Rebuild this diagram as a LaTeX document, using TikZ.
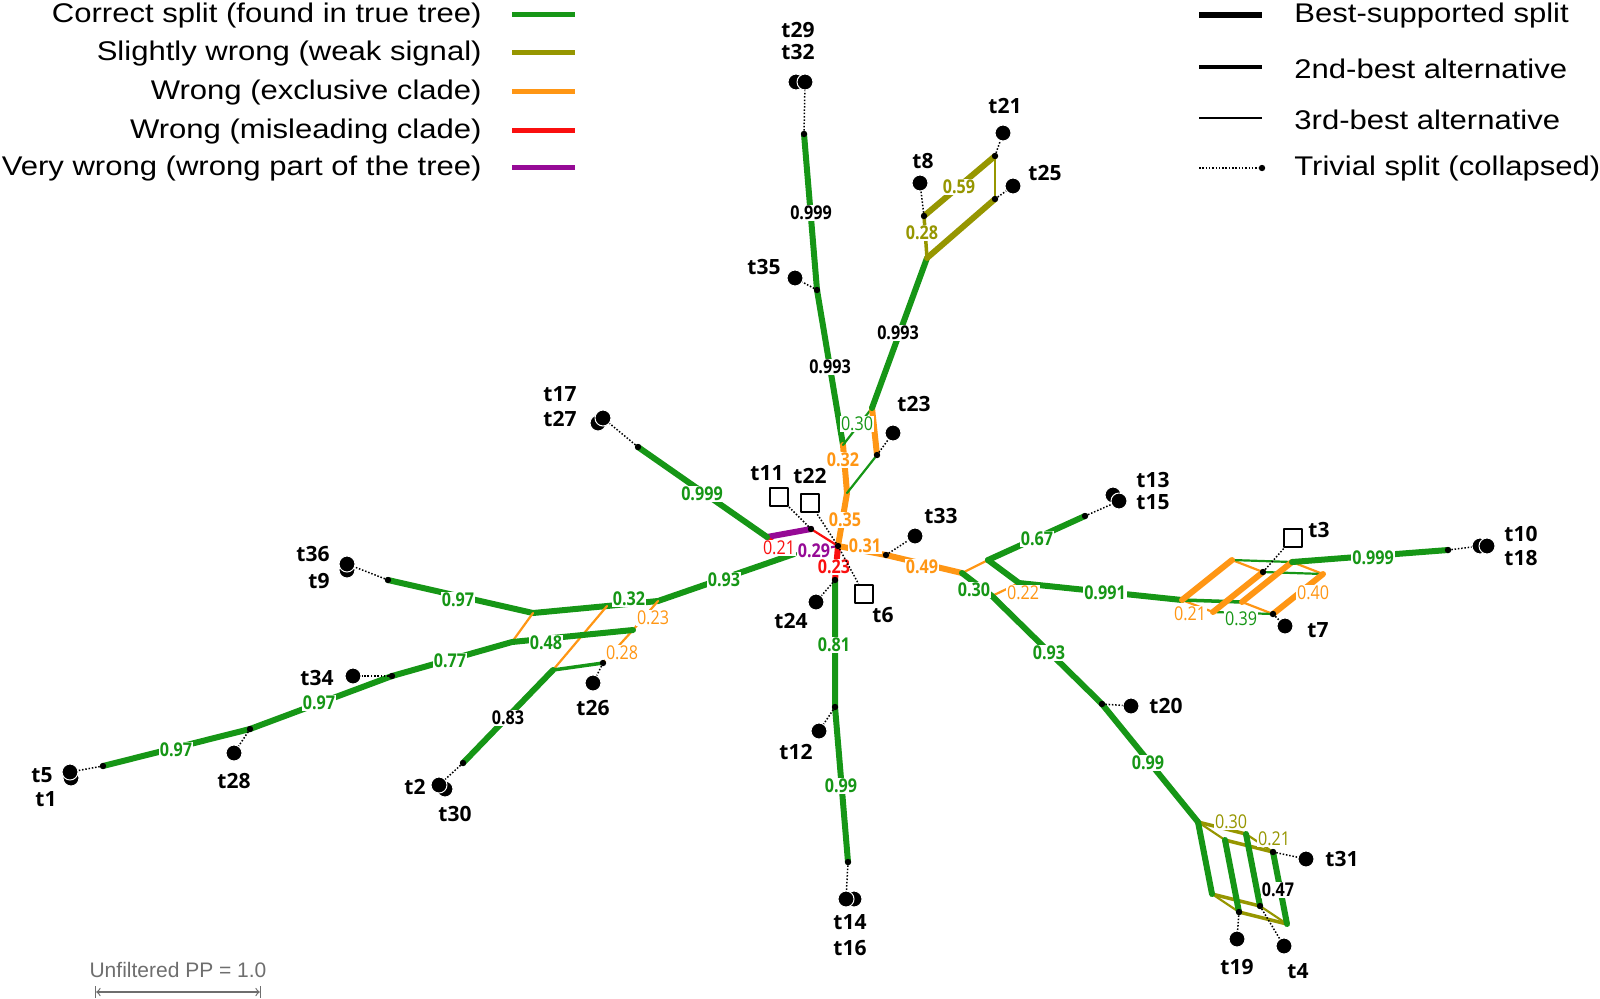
\documentclass[tikz,border=0pt]{standalone}
\usepackage{fontspec}
\setmainfont{Liberation Sans}
\newfontfamily\lgfont{Liberation Sans}[FakeStretch=1.15]
\newfontfamily\taxfont{Open Sans}
\newfontfamily\labfont{Open Sans}[FakeStretch=0.85]
\definecolor{cgreen}{RGB}{22,150,22}
\definecolor{colive}{RGB}{150,150,0}
\definecolor{corange}{RGB}{255,150,20}
\definecolor{cred}{RGB}{250,15,15}
\definecolor{cpurple}{RGB}{150,10,150}
\definecolor{cgray}{RGB}{110,110,110}
\begin{document}
\begin{tikzpicture}[x=0.5pt,y=-0.5pt,
  line cap=round, line join=round,
  bA/.style={line width=3pt},
  bB/.style={line width=1.75pt},
  bC/.style={line width=1.1pt},
  triv/.style={line width=0.75pt, dash pattern=on 0.75pt off 0.9pt, line cap=butt},
  tx/.style={circle, fill=black, draw=white, line width=0.5pt, minimum size=8pt, inner sep=0pt},
  sq/.style={rectangle, draw=black, fill=white, line width=1.1pt, minimum size=9pt, inner sep=0pt},
  jd/.style={circle, fill=black, minimum size=3.2pt, inner sep=0pt},
  tn/.style={font=\taxfont\bfseries\fontsize{10.5pt}{12pt}\selectfont, inner sep=0pt},
  bl/.style={font=\labfont\bfseries\fontsize{9.5pt}{10pt}\selectfont, fill=white, inner sep=0.4pt},
  bll/.style={font=\labfont\fontsize{9.5pt}{10pt}\selectfont, fill=white, inner sep=0.4pt},
  lg/.style={font=\lgfont\fontsize{13.5pt}{15pt}\selectfont, inner sep=0pt},
]
\useasboundingbox (0,0) rectangle (1600,998);

% ---------- legend ----------
\node[lg, anchor=east] (lg1) at (482,16) {Correct split (found in true tree)};
\node[lg, anchor=east] (lg2) at (482,54) {Slightly wrong (weak signal)};
\node[lg, anchor=east] (lg3) at (482,93) {Wrong (exclusive clade)};
\node[lg, anchor=east] (lg4) at (482,132) {Wrong (misleading clade)};
\node[lg, anchor=east] (lg5) at (482,169) {Very wrong (wrong part of the tree)};
\coordinate (la1) at (512,14); \coordinate (lb1) at (575,14);
\coordinate (la2) at (512,52); \coordinate (lb2) at (575,52);
\coordinate (la3) at (512,91); \coordinate (lb3) at (575,91);
\coordinate (la4) at (512,130); \coordinate (lb4) at (575,130);
\coordinate (la5) at (512,167); \coordinate (lb5) at (575,167);
\draw[cgreen, line width=2.5pt, line cap=butt] (la1) -- (lb1);
\draw[colive, line width=2.5pt, line cap=butt] (la2) -- (lb2);
\draw[corange, line width=2.5pt, line cap=butt] (la3) -- (lb3);
\draw[cred, line width=2.5pt, line cap=butt] (la4) -- (lb4);
\draw[cpurple, line width=2.5pt, line cap=butt] (la5) -- (lb5);

\coordinate (ra1) at (1199,15); \coordinate (rb1) at (1262,15);
\coordinate (ra2) at (1199,67); \coordinate (rb2) at (1262,67);
\coordinate (ra3) at (1199,118); \coordinate (rb3) at (1262,118);
\coordinate (ra4) at (1199,168);
\draw[line width=3pt, line cap=butt] (ra1) -- (rb1);
\draw[line width=1.6pt, line cap=butt] (ra2) -- (rb2);
\draw[line width=0.75pt, line cap=butt] (ra3) -- (rb3);
\node[jd] (rb4) at (1262,168) {};
\draw[triv, line width=0.6pt] (ra4) -- (rb4);
\node[lg, anchor=west] (rl1) at (1294,16) {Best-supported split};
\node[lg, anchor=west] (rl2) at (1294,69) {2nd-best alternative};
\node[lg, anchor=west] (rl3) at (1294,120) {3rd-best alternative};
\node[lg, anchor=west] (rl4) at (1294,169) {Trivial split (collapsed)};

% scale bar
\node[font=\fontsize{10.5pt}{12pt}\selectfont, text=cgray, inner sep=0pt] (sc) at (178,970) {Unfiltered PP = 1.0};
\coordinate (sa) at (95,992); \coordinate (sb) at (261,992);
\draw[cgray, line width=0.6pt, |<->|] (sa) -- (sb);

% ---------- coordinates ----------
\coordinate (C) at (838,546);
% top
\coordinate (n29) at (804,134);
\coordinate (n35) at (817,290);
\coordinate (G1) at (843,445);
\coordinate (G2) at (872,408);
\coordinate (n23) at (877,455);
\coordinate (G3) at (847,493);
\coordinate (O1) at (927,258);
\coordinate (n8) at (924,216);
\coordinate (n21) at (995,156);
\coordinate (n25) at (995,199);
% centre
\coordinate (A) at (767,537);
\coordinate (B) at (811,529);
\coordinate (D) at (794,554);
\coordinate (n24) at (835,580);
\coordinate (n12) at (835,707);
\coordinate (n14) at (848,862);
% right
\coordinate (n33) at (886,555);
\coordinate (P) at (962,573);
\coordinate (Q) at (988,560);
\coordinate (S) at (992,596);
\coordinate (R) at (1019,583);
\coordinate (n13) at (1085,516);
\coordinate (O2) at (1182,600);
\coordinate (O2u) at (1232,560);
\coordinate (O2w) at (1213,612);
\coordinate (O2uw) at (1263,572);
\coordinate (O2v) at (1242,602);
\coordinate (O2uv) at (1292,562);
\coordinate (O2vw) at (1273,614);
\coordinate (O2uvw) at (1323,574);
\coordinate (n10) at (1448,550);
% lower right
\coordinate (n20) at (1102,704);
\coordinate (T0) at (1198,822);
\coordinate (T1) at (1225,840);
\coordinate (T2) at (1246,834);
\coordinate (T3) at (1273,852);
\coordinate (B0) at (1212,894);
\coordinate (B1) at (1239,912);
\coordinate (B2) at (1260,906);
\coordinate (B3) at (1287,924);
% left
\coordinate (n17) at (638,447);
\coordinate (X) at (658,601);
\coordinate (M) at (607,606);
\coordinate (Y) at (533,613);
\coordinate (Z) at (633,630);
\coordinate (U) at (603,663);
\coordinate (W) at (512,642);
\coordinate (V) at (553,670);
\coordinate (n2) at (463,763);
\coordinate (n36) at (388,580);
\coordinate (n34) at (392,676);
\coordinate (n28) at (250,729);
\coordinate (n5) at (103,766);

% ---------- edges ----------
% top
\draw[cgreen,bA] (n29) -- (n35) -- (G1);
\draw[corange,bA] (G1) -- (G3) -- (C);
\draw[cgreen,bC] (G1) -- (G2);
\draw[cgreen,bC] (G3) -- (n23);
\draw[corange,bA] (G2) -- (n23);
\draw[cgreen,bA] (G2) -- (O1);
\draw[colive,bB] (O1) -- (n8);
\draw[colive,bA] (n8) -- (n21);
\draw[colive,bA] (O1) -- (n25);
\draw[colive,bC] (n21) -- (n25);
% centre
\draw[cpurple,bA] (A) -- (B);
\draw[cpurple,bC] (D) -- (C);
\draw[cred,bC] (A) -- (D);
\draw[cred,bC] (B) -- (C);
\draw[cred,bA] (C) -- (n24);
\draw[cgreen,bA] (n24) -- (n12) -- (n14);
% right
\draw[corange,bA] (C) -- (n33) -- (P);
\draw[corange,bC] (P) -- (Q);
\draw[corange,bC] (S) -- (R);
\draw[cgreen,bA] (P) -- (S) -- (n20) -- (T0);
\draw[cgreen,bA] (Q) -- (R) -- (O2);
\draw[cgreen,bA] (Q) -- (n13);
% cube 1
\draw[corange,bC] (O2) -- (O2w);
\draw[corange,bC] (O2u) -- (O2uw);
\draw[corange,bC] (O2v) -- (O2vw);
\draw[corange,bC] (O2uv) -- (O2uvw);
\draw[cgreen,bB] (O2) -- (O2v);
\draw[cgreen,bC] (O2w) -- (O2vw);
\draw[cgreen,bC] (O2u) -- (O2uv);
\draw[cgreen,bC] (O2uw) -- (O2uvw);
\draw[corange,bA] (O2) -- (O2u);
\draw[corange,bA] (O2w) -- (O2uw);
\draw[corange,bA] (O2v) -- (O2uv);
\draw[corange,bA] (O2vw) -- (O2uvw);
\draw[cgreen,bA] (O2uv) -- (n10);
% cube 2
\draw[colive,bC] (T0) -- (T1);
\draw[colive,bC] (T2) -- (T3);
\draw[colive,bC] (B0) -- (B1);
\draw[colive,bC] (B2) -- (B3);
\draw[colive,bB] (T0) -- (T2);
\draw[colive,bB] (T1) -- (T3);
\draw[colive,bB] (B0) -- (B2);
\draw[colive,bB] (B1) -- (B3);
\draw[cgreen,bA] (T0) -- (B0);
\draw[cgreen,bA] (T1) -- (B1);
\draw[cgreen,bA] (T2) -- (B2);
\draw[cgreen,bA] (T3) -- (B3);
% left
\draw[cgreen,bA] (A) -- (n17);
\draw[cgreen,bA] (D) -- (X) -- (M) -- (Y) -- (n36);
\draw[corange,bC] (X) -- (Z) -- (U);
\draw[corange,bC] (Y) -- (W);
\draw[corange,bC] (M) -- (V);
\draw[cgreen,bA] (Z) -- (W) -- (n34) -- (n28) -- (n5);
\draw[cgreen,bB] (V) -- (U);
\draw[cgreen,bA] (V) -- (n2);

% ---------- branch labels ----------
\node[bl] (L1) at (811,213) {0.999};
\node[bl] (L2) at (830,367) {0.993};
\node[bl] (L3) at (898,333) {0.993};
\node[bll, text=cgreen] (L4) at (857,424) {0.30};
\node[bl, text=corange] (L5) at (843,460) {0.32};
\node[bl, text=corange] (L6) at (845,520) {0.35};
\node[bl, text=corange] (L7) at (865,546) {0.31};
\node[bl, text=corange] (L8) at (922,567) {0.49};
\node[bl, text=cpurple] (L9) at (814,551) {0.29};
\node[bll, text=cred] (L10) at (779,548) {0.21};
\node[bl, text=cred] (L11) at (834,567) {0.23};
\node[bl, text=cgreen] (L12) at (702,494) {0.999};
\node[bl, text=cgreen] (L13) at (724,580) {0.93};
\node[bl, text=cgreen] (L14) at (629,599) {0.32};
\node[bll, text=corange] (L15) at (653,618) {0.23};
\node[bl, text=cgreen] (L16) at (546,643) {0.48};
\node[bll, text=corange] (L17) at (622,653) {0.28};
\node[bl, text=cgreen] (L18) at (458,600) {0.97};
\node[bl, text=cgreen] (L19) at (450,661) {0.77};
\node[bl, text=cgreen] (L20) at (319,703) {0.97};
\node[bl, text=cgreen] (L21) at (176,750) {0.97};
\node[bl] (L22) at (508,718) {0.83};
\node[bl, text=cgreen] (L23) at (834,645) {0.81};
\node[bl, text=cgreen] (L24) at (841,786) {0.99};
\node[bl, text=cgreen] (L25) at (1037,539) {0.67};
\node[bl, text=cgreen] (L26) at (974,590) {0.30};
\node[bll, text=corange] (L27) at (1023,593) {0.22};
\node[bl, text=cgreen] (L28) at (1105,593) {0.991};
\node[bl, text=cgreen] (L29) at (1373,558) {0.999};
\node[bll, text=corange] (L30) at (1190,614) {0.21};
\node[bll, text=cgreen] (L31) at (1241,619) {0.39};
\node[bll, text=corange] (L32) at (1313,593) {0.40};
\node[bl, text=cgreen] (L33) at (1049,653) {0.93};
\node[bl, text=cgreen] (L34) at (1148,763) {0.99};
\node[bll, text=colive] (L35) at (1231,822) {0.30};
\node[bll, text=colive] (L36) at (1274,839) {0.21};
\node[bl] (L37) at (1278,890) {0.47};
\node[bl, text=colive] (L38) at (922,233) {0.28};
\node[bl, text=colive] (L39) at (959,187) {0.59};

% ---------- junction dots ----------
\foreach \p in {n29,n35,n23,n8,n21,n25,B,C,n24,n33,n12,n14,n13,O2uw,O2vw,n10,n20,T3,B1,B2,n17,n36,n34,n28,n5,n2,U}
  \node[jd] (d\p) at (\p) {};

% ---------- taxa ----------
% t29 / t32
\node[tx] (c29) at (796,82) {};
\node[tx] (c32) at (805,82) {};
\node[tn] (l29) at (798,30) {t29};
\node[tn] (l32) at (798,52) {t32};
\draw[triv] (n29) -- (c32);
% t35
\node[tx] (c35) at (795,278) {};
\node[tn] (l35) at (764,267) {t35};
\draw[triv] (n35) -- (c35);
% t23
\node[tx] (c23) at (893,433) {};
\node[tn] (l23) at (914,404) {t23};
\draw[triv] (n23) -- (c23);
% t8 t21 t25
\node[tx] (c8) at (920,183) {};
\node[tn] (l8) at (923,161) {t8};
\draw[triv] (n8) -- (c8);
\node[tx] (c21) at (1003,133) {};
\node[tn] (l21) at (1005,106) {t21};
\draw[triv] (n21) -- (c21);
\node[tx] (c25) at (1013,186) {};
\node[tn] (l25) at (1045,173) {t25};
\draw[triv] (n25) -- (c25);
% t11 t22 t6
\node[sq] (c11) at (779,497) {};
\node[tn] (l11) at (767,473) {t11};
\draw[triv] (B) -- (c11);
\node[sq] (c22) at (810,503) {};
\node[tn] (l22) at (810,476) {t22};
\draw[triv] (C) -- (c22);
\node[sq] (c6) at (864,594) {};
\node[tn] (l6) at (883,615) {t6};
\draw[triv] (C) -- (c6);
% t24
\node[tx] (c24) at (816,602) {};
\node[tn] (l24) at (791,621) {t24};
\draw[triv] (n24) -- (c24);
% t33
\node[tx] (c33) at (915,536) {};
\node[tn] (l33) at (941,516) {t33};
\draw[triv] (n33) -- (c33);
% t12
\node[tx] (c12) at (819,731) {};
\node[tn] (l12) at (796,752) {t12};
\draw[triv] (n12) -- (c12);
% t14 / t16
\node[tx] (c16) at (854,899) {};
\node[tx] (c14) at (846,899) {};
\node[tn] (l14) at (850,922) {t14};
\node[tn] (l16) at (850,948) {t16};
\draw[triv] (n14) -- (c14);
% t13 / t15
\node[tx] (c13) at (1113,495) {};
\node[tx] (c15) at (1119,501) {};
\node[tn] (l13) at (1153,480) {t13};
\node[tn] (l15) at (1153,502) {t15};
\draw[triv] (n13) -- (c15);
% t3, t7
\node[sq] (c3) at (1293,538) {};
\node[tn] (l3) at (1319,530) {t3};
\draw[triv] (O2uw) -- (c3);
\node[tx] (c7) at (1285,626) {};
\node[tn] (l7) at (1318,630) {t7};
\draw[triv] (O2vw) -- (c7);
% t10 / t18
\node[tx] (c10) at (1480,546) {};
\node[tx] (c18) at (1487,546) {};
\node[tn] (l10) at (1521,534) {t10};
\node[tn] (l18) at (1521,558) {t18};
\draw[triv] (n10) -- (c10);
% t20
\node[tx] (c20) at (1131,706) {};
\node[tn] (l20) at (1166,706) {t20};
\draw[triv] (n20) -- (c20);
% t31 t19 t4
\node[tx] (c31) at (1306,859) {};
\node[tn] (l31) at (1342,859) {t31};
\draw[triv] (T3) -- (c31);
\node[tx] (c19) at (1237,939) {};
\node[tn] (l19) at (1237,967) {t19};
\draw[triv] (B1) -- (c19);
\node[tx] (c4) at (1284,946) {};
\node[tn] (l4) at (1298,971) {t4};
\draw[triv] (B2) -- (c4);
% t17 / t27
\node[tx] (c27) at (598,423) {};
\node[tx] (c17) at (603,418) {};
\node[tn] (l17) at (560,394) {t17};
\node[tn] (l27) at (560,419) {t27};
\draw[triv] (n17) -- (c17);
% t36 / t9
\node[tx] (c9) at (347,570) {};
\node[tx] (c36) at (347,564) {};
\node[tn] (l36) at (313,554) {t36};
\node[tn] (l9) at (319,581) {t9};
\draw[triv] (n36) -- (c36);
% t34
\node[tx] (c34) at (353,676) {};
\node[tn] (l34) at (317,678) {t34};
\draw[triv] (n34) -- (c34);
% t28
\node[tx] (c28) at (234,753) {};
\node[tn] (l28) at (234,781) {t28};
\draw[triv] (n28) -- (c28);
% t5 / t1
\node[tx] (c1) at (71,778) {};
\node[tx] (c5) at (70,772) {};
\node[tn] (l5) at (42,775) {t5};
\node[tn] (l1) at (46,799) {t1};
\draw[triv] (n5) -- (c5);
% t2 / t30
\node[tx] (c30) at (445,789) {};
\node[tx] (c2) at (439,785) {};
\node[tn] (l2) at (415,787) {t2};
\node[tn] (l30) at (455,814) {t30};
\draw[triv] (n2) -- (c2);
% t26
\node[tx] (c26) at (593,683) {};
\node[tn] (l26) at (593,708) {t26};
\draw[triv] (U) -- (c26);
\end{tikzpicture}
\end{document}
